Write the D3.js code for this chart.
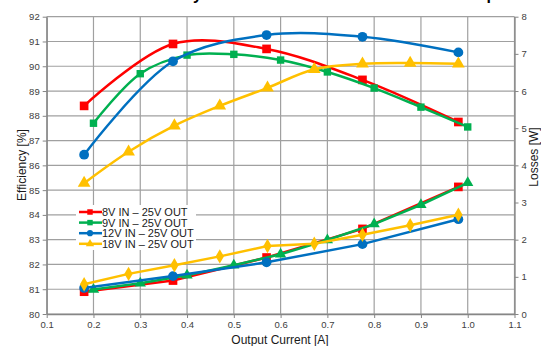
<!DOCTYPE html>
<html><head><meta charset="utf-8">
<script src="https://cdn.jsdelivr.net/npm/d3@7"></script>
<style>body{margin:0;background:#fff}svg{display:block;font-family:"Liberation Sans",Arial,sans-serif}</style>
</head><body><svg id="c" width="541" height="346"></svg>
<script>
const seriesNames = ["8V IN \u2013 25V OUT","9V IN \u2013 25V OUT","12V IN \u2013 25V OUT","18V IN \u2013 25V OUT"];
const colors = ["#FF0000","#00B050","#0070C0","#FFC000"];
const xTicks = [0.1,0.2,0.3,0.4,0.5,0.6,0.7,0.8,0.9,1.0,1.1];
const effTicks = [80,81,82,83,84,85,86,87,88,89,90,91,92];
const lossTicks = [0,1,2,3,4,5,6,7,8];

const cur8 = [0.18,0.37,0.57,0.775,0.98];
const eff8 = [88.4,90.9,90.7,89.45,87.75];
const loss8 = [0.6,0.9,1.52,2.29,3.42];

const cur9 = [0.2,0.3,0.4,0.5,0.6,0.7,0.8,0.9,1.0];
const eff9 = [87.7,89.7,90.45,90.48,90.25,89.77,89.12,88.35,87.55];
const loss9 = [0.66,0.83,1.04,1.31,1.61,1.99,2.42,2.94,3.53];

const cur12 = [0.18,0.37,0.57,0.775,0.98];
const eff12 = [86.43,90.2,91.26,91.19,90.56];
const loss12 = [0.7,1.02,1.39,1.88,2.55];

const cur18 = [0.18,0.275,0.373,0.47,0.572,0.672,0.775,0.877,0.98];
const eff18 = [85.28,86.55,87.6,88.4,89.13,89.88,90.1,90.13,90.1];
const loss18 = [0.8,1.08,1.31,1.55,1.83,1.89,2.13,2.39,2.67];

const svg = d3.select("#c");
const L=46.7,R=514.5,T=16.7,B=314;
const x = d3.scaleLinear().domain([0.1,1.1]).range([L,R]);
const yE = d3.scaleLinear().domain([80,92]).range([B,T]);
const yL = d3.scaleLinear().domain([0,8]).range([B,T]);

// title (cut off at top edge, only descenders visible)
const title = svg.append("text").attr("y",0).attr("font-size",16).attr("font-weight","bold").attr("fill","#000")
  .text("Efficiency and Losses vs Load Current 25V Output");
try{ const w = title.node().getSubStringLength(0,9); title.attr("x",193-w);}catch(e){title.attr("x",125);}

// gridlines
const g = svg.append("g");
g.selectAll(".vg").data(xTicks).join("line").attr("x1",d=>x(d)).attr("x2",d=>x(d)).attr("y1",T).attr("y2",B)
  .attr("stroke","#a0a0a0").attr("stroke-width",1.2);
g.selectAll(".hg").data(effTicks).join("line").attr("x1",L).attr("x2",R).attr("y1",d=>yE(d)).attr("y2",d=>yE(d))
  .attr("stroke","#a0a0a0").attr("stroke-width",1.2);

// axes
const axL = svg.append("g").attr("transform",`translate(${L},0)`).call(d3.axisLeft(yE).tickValues(effTicks).tickSize(4).tickSizeOuter(0).tickFormat(d3.format("d")));
const axR = svg.append("g").attr("transform",`translate(${R},0)`).call(d3.axisRight(yL).tickValues(lossTicks).tickSize(4).tickSizeOuter(0).tickFormat(d3.format("d")));
const axB = svg.append("g").attr("transform",`translate(0,${B})`).call(d3.axisBottom(x).tickValues(xTicks).tickSize(4).tickSizeOuter(0).tickFormat(d3.format(".1f")));
[axL,axR,axB].forEach(a=>{
  a.select(".domain").attr("stroke","#868686").attr("stroke-width",1.3);
  a.selectAll(".tick line").attr("stroke","#868686");
  a.selectAll("text").attr("font-size",9.5).attr("fill","#404040").attr("font-family","Liberation Sans, Arial, sans-serif");
});

// axis titles
svg.append("text").attr("x",280).attr("y",344).attr("text-anchor","middle").attr("font-size",12).attr("fill","#1a1a1a").text("Output Current [A]");
svg.append("text").attr("transform","translate(26,165) rotate(-90)").attr("text-anchor","middle").attr("font-size",12).attr("fill","#1a1a1a").text("Efficiency [%]");
svg.append("text").attr("transform","translate(538,157) rotate(-90)").attr("text-anchor","middle").attr("font-size",12).attr("fill","#1a1a1a").text("Losses [W]");

const effData = [
  cur8.map((c,i)=>[c,eff8[i]]), cur9.map((c,i)=>[c,eff9[i]]),
  cur12.map((c,i)=>[c,eff12[i]]), cur18.map((c,i)=>[c,eff18[i]])];
const lossData = [
  cur8.map((c,i)=>[c,loss8[i]]), cur9.map((c,i)=>[c,loss9[i]]),
  cur12.map((c,i)=>[c,loss12[i]]), cur18.map((c,i)=>[c,loss18[i]])];
const effSym = [d3.symbolSquare,d3.symbolSquare,d3.symbolCircle,d3.symbolTriangle];
const effSize = [75,55,75,70];
const lossSym = [d3.symbolSquare,d3.symbolTriangle,d3.symbolCircle,d3.symbolDiamond];
const lossSize = [75,55,75,60];

const lineE = d3.line().x(d=>x(d[0])).y(d=>yE(d[1])).curve(d3.curveCatmullRom.alpha(0.5));
const lineL = d3.line().x(d=>x(d[0])).y(d=>yL(d[1]));

const plot = svg.append("g");
for(let s=0;s<4;s++){
  const gs = plot.append("g");
  gs.append("path").attr("d",lineE(effData[s])).attr("fill","none").attr("stroke",colors[s]).attr("stroke-width",2.5);
  gs.selectAll(".me").data(effData[s]).join("path").attr("transform",d=>`translate(${x(d[0])},${yE(d[1])})`)
    .attr("d",d3.symbol().type(effSym[s]).size(effSize[s])).attr("fill",colors[s]);
  gs.append("path").attr("d",lineL(lossData[s])).attr("fill","none").attr("stroke",colors[s]).attr("stroke-width",2.5);
  gs.selectAll(".ml").data(lossData[s]).join("path").attr("transform",d=>`translate(${x(d[0])},${yL(d[1])})`)
    .attr("d",d3.symbol().type(lossSym[s]).size(lossSize[s])).attr("fill",colors[s]);
}

// legend
const lg = svg.append("g");
lg.append("rect").attr("x",76).attr("y",205).attr("width",120).attr("height",45).attr("fill","#fff");
const legSym = [d3.symbolSquare,d3.symbolSquare,d3.symbolCircle,d3.symbolTriangle];
seriesNames.forEach((n,i)=>{
  const yy = 212 + i*10.6;
  lg.append("line").attr("x1",79).attr("x2",102).attr("y1",yy).attr("y2",yy).attr("stroke",colors[i]).attr("stroke-width",2.5);
  lg.append("path").attr("transform",`translate(90,${yy})`).attr("d",d3.symbol().type(legSym[i]).size(30)).attr("fill",colors[i]);
  lg.append("text").attr("x",102).attr("y",yy+4).attr("font-size",11).attr("fill","#1a1a1a").text(n);
});
</script></body></html>
